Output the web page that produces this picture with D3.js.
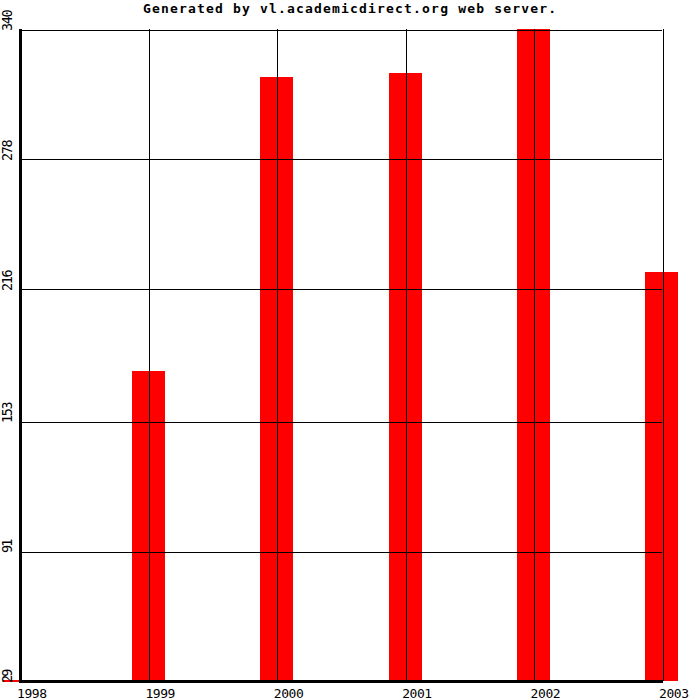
<!doctype html>
<html>
<head>
    <style>
        body { margin: 0; background: #fff; }
        svg { display: block; }
        text { font-family: "DejaVu Sans Mono", "Liberation Mono", monospace; fill: #000; }
    </style>
    <script src="https://d3js.org/d3.v7.min.js"></script>
</head>
<body>
<svg width="700" height="700"></svg>
<script>

    // chart values
    var years = [1998, 1999, 2000, 2001, 2002, 2003];
    var barYears = [1999, 2000, 2001, 2002, 2003];
    var counts = [177, 317, 319, 340, 224];
    var yTicks = [29, 91, 153, 216, 278, 340];
    var title = "Generated by vl.academicdirect.org web server.";

    var svg = d3.select("svg").attr("shape-rendering", "crispEdges"),
        plotLeft = 20, plotRight = 662, plotTop = 29, plotBottom = 681;

    var xScale = d3.scaleLinear().domain([1998, 2003]).range([plotLeft, plotRight]),
        yScale = d3.scaleLinear().domain([29, 340]).range([plotBottom, plotTop]);

    var barWidth = (xScale(1999) - xScale(1998)) * 0.26;

    // bars first, grid drawn over them
    svg.selectAll(".bar")
       .data(barYears)
       .enter().append("rect")
       .attr("class", "bar")
       .attr("fill", "#ff0000")
       .attr("x", function(d) { return Math.round(xScale(d) - barWidth / 2); })
       .attr("y", function(d, i) { return Math.round(yScale(counts[i])); })
       .attr("width", Math.round(barWidth))
       .attr("height", function(d, i) { return Math.round(plotBottom - yScale(counts[i])); });

    // horizontal grid
    var gy = svg.append("g")
       .attr("transform", "translate(" + plotLeft + ",0)")
       .call(d3.axisRight(yScale).tickValues(yTicks).tickSize(plotRight - plotLeft).tickFormat(""));
    gy.select(".domain").remove();
    gy.selectAll("line").attr("stroke", "#000").attr("transform", "translate(0,0.5)");

    // vertical grid
    var gx = svg.append("g")
       .attr("transform", "translate(0," + plotBottom + ")")
       .call(d3.axisTop(xScale).tickValues(years).tickSize(plotBottom - plotTop).tickFormat(""));
    gx.select(".domain").remove();
    gx.selectAll("line").attr("stroke", "#000").attr("transform", "translate(0.5,0)");

    // thick axes
    svg.append("rect").attr("x", 19).attr("y", plotTop).attr("width", 3).attr("height", plotBottom - plotTop + 2).attr("fill", "#000");
    svg.append("rect").attr("x", 19).attr("y", plotBottom - 1).attr("width", plotRight - 19 + 1).attr("height", 3).attr("fill", "#000");
    svg.append("rect").attr("x", 3).attr("y", plotBottom - 1).attr("width", 16).attr("height", 2).attr("fill", "#ff0000");

    // x labels
    svg.selectAll(".xlab")
       .data(years)
       .enter().append("text")
       .attr("class", "xlab")
       .attr("x", function(d) { return xScale(d) - 3; })
       .attr("y", 698)
       .attr("font-size", "13px")
       .attr("textLength", function(d) { return String(d).length * 7.5; })
       .text(function(d) { return d; });

    // y labels, rotated
    svg.selectAll(".ylab")
       .data(yTicks)
       .enter().append("text")
       .attr("class", "ylab")
       .attr("transform", function(d) { return "translate(12," + (yScale(d) + 2) + ") rotate(-90)"; })
       .attr("font-size", "13.5px")
       .attr("textLength", function(d) { return String(d).length * 7.2; })
       .text(function(d) { return d; });

    svg.append("text")
       .attr("x", 143)
       .attr("y", 13)
       .attr("font-size", "13px")
       .attr("font-weight", "bold")
       .attr("textLength", 413)
       .text(title);

</script>
</body>
</html>
